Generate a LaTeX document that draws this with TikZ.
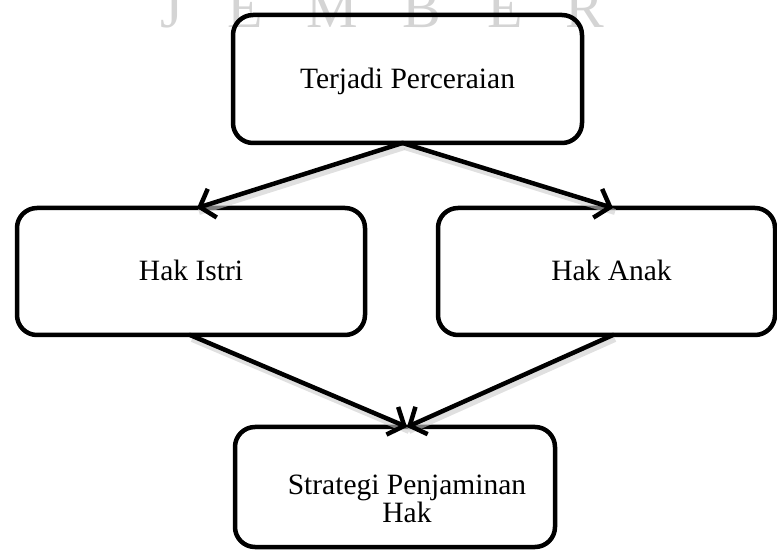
\documentclass[tikz,border=0pt]{standalone}
\usepackage{fontspec}
\setmainfont{Liberation Serif}
\usetikzlibrary{arrows.meta}
\begin{document}
\begin{tikzpicture}[x=1pt,y=1pt,
  box/.style={draw, line width=4.5pt, rounded corners=20pt, inner sep=0pt, outer sep=0pt,
    text height=19pt, text depth=0pt, font=\fontsize{29.5}{28}\selectfont},
  wm/.style={text=black!17, font=\fontsize{58}{58}\selectfont, anchor=base, inner sep=0pt},
  lbl/.style={font=\fontsize{29.5}{27.5}\selectfont, align=center, inner sep=0pt},
  link/.style={line width=4.5pt, line cap=round,
    -{Straight Barb[length=13pt,width=30pt]},
    preaction={draw, -, line width=6pt, black!20, opacity=0.6,
      transform canvas={shift={(2pt,-4pt)}}}}]
\useasboundingbox (0,0) rectangle (777,-553);
\begin{scope}
  \clip (0,0) rectangle (777,-553);
  \node[wm] (w1) at (172,-28) {J};
  \node[wm] (w2) at (245,-28) {E};
  \node[wm] (w3) at (332,-28) {M};
  \node[wm] (w4) at (422,-28) {B};
  \node[wm] (w5) at (505,-28) {E};
  \node[wm] (w6) at (585,-28) {R};
\end{scope}
\node[box, minimum width=349pt, minimum height=128pt] (top) at (407.5,-79) {Terjadi Perceraian};
\node[box, minimum width=348pt, minimum height=127pt] (left) at (191,-271.5) {Hak Istri};
\node[box, minimum width=337pt, minimum height=127pt] (right) at (606.5,-271.5) {\hspace*{10pt}Hak Anak};
\node[box, minimum width=320pt, minimum height=120pt] (bot) at (395,-487) {};
\node[lbl] (bottxt) at (407,-499) {Strategi Penjaminan\\Hak};
\draw[link] ([xshift=-5pt]top.south) -- ([xshift=6pt]left.north);
\draw[link] ([xshift=-5pt]top.south) -- ([xshift=6.5pt]right.north);
\draw[link] ([xshift=-1pt]left.south) -- ([xshift=12pt]bot.north);
\draw[link] ([xshift=6.5pt]right.south) -- ([xshift=12pt]bot.north);
\end{tikzpicture}
\end{document}
